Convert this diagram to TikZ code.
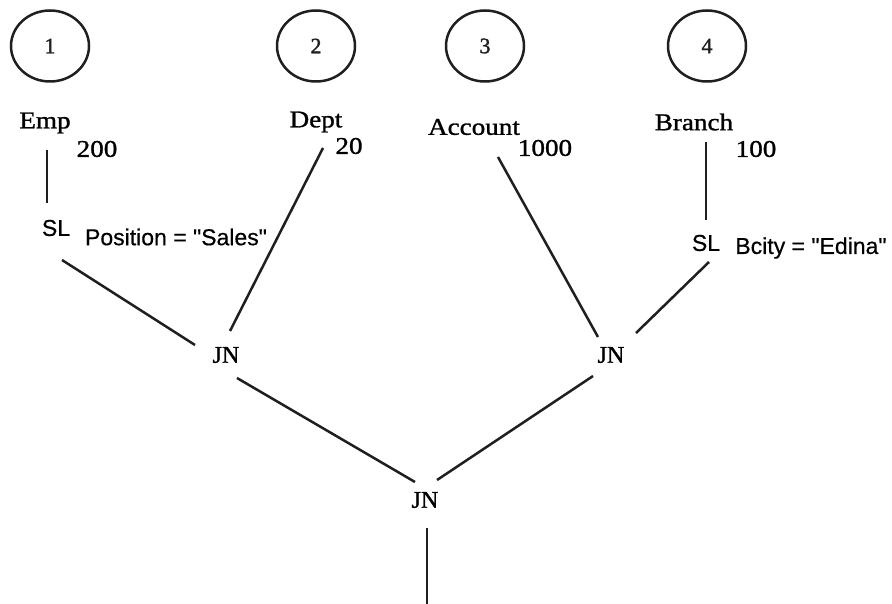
\documentclass[tikz,border=0pt]{standalone}
\usepackage{fontspec}
\setmainfont{Liberation Serif}
\newfontfamily\wideserif[FakeStretch=1.13,FakeBold=1.2]{Liberation Serif}
\newfontfamily\boldserif[FakeBold=1.5]{Liberation Serif}
\newfontfamily\sansf[FakeBold=0.5]{Liberation Sans}
\usetikzlibrary{shapes.geometric}
\begin{document}
\begin{tikzpicture}[x=1pt,y=-1pt,
  ink/.style={line width=2.5pt,color=black!88},
  relcircle/.style={ellipse,draw,ink,minimum width=78pt,minimum height=71pt,inner sep=0pt,
     font=\boldserif\fontsize{22}{22}\selectfont},
  rel/.style={inner sep=0pt,font=\wideserif\fontsize{24}{24}\selectfont},
  card/.style={inner sep=0pt,font=\wideserif\fontsize{24}{24}\selectfont},
  op/.style={inner sep=0pt,font=\sansf\fontsize{23}{23}\selectfont},
  cond/.style={inner sep=0pt,font=\sansf\fontsize{23}{23}\selectfont},
  joinop/.style={inner sep=0pt,font=\boldserif\fontsize{24}{24}\selectfont},
  edge/.style={ink}]
\useasboundingbox (0,0) rectangle (892,604);
% relation numbers
\node[relcircle] (c1) at (50,46) {1};
\node[relcircle] (c2) at (316,46) {2};
\node[relcircle] (c3) at (485,46) {3};
\node[relcircle] (c4) at (707,46) {4};
% relations
\node[rel] (emp) at (45,123) {Emp};
\node[card] (n200) at (97,149) {200};
\node[rel] (dept) at (316,122) {Dept};
\node[card] (n20) at (349,146) {20};
\node[rel] (account) at (474,127) {Account};
\node[card] (n1000) at (545,148) {1000};
\node[rel] (branch) at (694,122) {Branch};
\node[card] (n100) at (756,149) {100};
% selections
\node[op] (sl1) at (56,228) {SL};
\node[cond] (pos) at (176,237) {Position = "Sales"};
\node[op] (sl2) at (706,243) {SL};
\node[cond] (bcity) at (811,248) {Bcity = "Edina"};
% joins
\node[joinop] (jn1) at (226,355) {JN};
\node[joinop] (jn2) at (611,355) {JN};
\node[joinop] (jn3) at (425,500) {JN};
\coordinate (out) at (427,606);
% connectors
\draw[edge] ([shift={(2,27)}]emp.center) -- ([shift={(-9,-25)}]sl1.center);
\draw[edge] ([shift={(7,26)}]dept.center) -- ([shift={(4,-24)}]jn1.center);
\draw[edge] ([shift={(6,32)}]sl1.center) -- ([shift={(-31,-10)}]jn1.center);
\draw[edge] ([shift={(24,30)}]account.center) -- ([shift={(-13,-18)}]jn2.center);
\draw[edge] ([shift={(12,20)}]branch.center) -- ([shift={(0,-23)}]sl2.center);
\draw[edge] ([shift={(3,19)}]sl2.center) -- ([shift={(25,-22)}]jn2.center);
\draw[edge] ([shift={(11,23)}]jn1.center) -- ([shift={(-10,-18)}]jn3.center);
\draw[edge] ([shift={(-18,21)}]jn2.center) -- ([shift={(12,-20)}]jn3.center);
\draw[edge] ([shift={(2,28)}]jn3.center) -- (out);
\end{tikzpicture}
\end{document}
